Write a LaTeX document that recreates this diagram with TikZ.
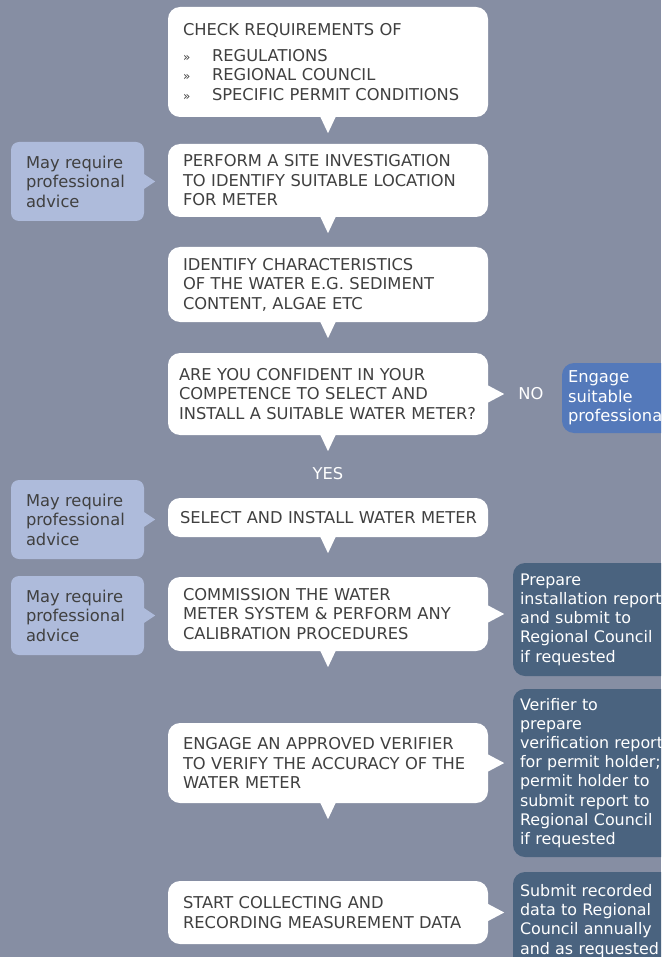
\documentclass[tikz,border=0pt]{standalone}
\usepackage{fontspec}
\setmainfont{DejaVu Sans}
\definecolor{bg}{RGB}{134,142,163}
\definecolor{lightb}{RGB}{174,187,219}
\definecolor{engageb}{RGB}{84,121,186}
\definecolor{darkb}{RGB}{74,99,127}
\definecolor{txt}{RGB}{64,64,64}
\begin{document}
\begin{tikzpicture}[x=1pt,y=-1pt,
  base/.style={font=\fontsize{16.3}{19.5}\selectfont, inner sep=0pt, align=left},
  mainbox/.style={base, fill=white, text=txt, rounded corners=12pt, minimum width=320pt, text width=290pt},
  sidebox/.style={base, fill=lightb, text=txt, rounded corners=8pt, minimum width=133pt, minimum height=79pt, text width=103pt},
  darkbox/.style={base, font=\fontsize{15.9}{19.2}\selectfont, fill=darkb, text=white, rounded corners=12pt, minimum width=162pt, text width=148pt},
  engbox/.style={base, fill=engageb, text=white, rounded corners=12pt, minimum width=113pt, minimum height=70pt, text width=101pt},
  lbl/.style={base, text=white},
  downptr/.style={fill=white},
  rightptr/.style={fill=white},
  sideptr/.style={fill=lightb}
]
\useasboundingbox (0,0) rectangle (661,957);
\fill[bg] (0,0) rectangle (661,957);
\clip (0,0) rectangle (661,957);

% main boxes
\node[mainbox, minimum height=110pt] (b1) at (328,62)
  {CHECK REQUIREMENTS OF\\[6pt]
   \makebox[29pt][l]{\fontsize{12}{14}\selectfont »}REGULATIONS\\
   \makebox[29pt][l]{\fontsize{12}{14}\selectfont »}REGIONAL COUNCIL\\
   \makebox[29pt][l]{\fontsize{12}{14}\selectfont »}SPECIFIC PERMIT CONDITIONS};
\node[mainbox, minimum height=73pt] (b2) at (328,180.5)
  {PERFORM A SITE INVESTIGATION\\TO IDENTIFY SUITABLE LOCATION\\FOR METER};
\node[mainbox, minimum height=75pt] (b3) at (328,284.5)
  {IDENTIFY CHARACTERISTICS\\OF THE WATER E.G. SEDIMENT\\CONTENT, ALGAE ETC};
\node[mainbox, minimum height=82pt, text width=298pt] (b4) at (328,394)
  {ARE YOU CONFIDENT IN YOUR\\COMPETENCE TO SELECT AND\\INSTALL A SUITABLE WATER METER?};
\node[mainbox, minimum height=39pt, text width=296pt] (b5) at (328,517.5)
  {\mbox{SELECT AND INSTALL WATER METER}};
\node[mainbox, minimum height=74pt] (b6) at (328,614)
  {COMMISSION THE WATER\\METER SYSTEM \& PERFORM ANY\\CALIBRATION PROCEDURES};
\node[mainbox, minimum height=80pt] (b7) at (328,763)
  {ENGAGE AN APPROVED VERIFIER\\TO VERIFY THE ACCURACY OF THE\\WATER METER};
\node[mainbox, minimum height=63pt] (b8) at (328,912.5)
  {START COLLECTING AND\\RECORDING MEASUREMENT DATA};

% side boxes
\node[sidebox] (s1) at (77.5,181.5) {May require\\professional\\advice};
\node[sidebox] (s2) at (77.5,519.5) {May require\\professional\\advice};
\node[sidebox] (s3) at (77.5,615.5) {May require\\professional\\advice};

% right boxes
\node[engbox] (e1) at (618.5,398) {Engage\\suitable\\professional};
\node[darkbox, minimum height=113pt] (d1) at (594,619.5)
  {Prepare\\installation report\\and submit to\\Regional Council\\if requested};
\node[darkbox, minimum height=168pt] (d2) at (594,773)
  {Verifier to\\prepare\\verification report\\for permit holder;\\permit holder to\\submit report to\\Regional Council\\if requested};
\node[darkbox, minimum height=98pt] (d3) at (594,921)
  {Submit recorded\\data to Regional\\Council annually\\and as requested};

% labels
\node[lbl] (no) at (531,394) {NO};
\node[lbl] (yes) at (328,474) {YES};

% downward pointers
\foreach \b in {b1,b2,b3,b4,b5,b6,b7}
  \fill[downptr] ([xshift=-8pt,yshift=1pt]\b.south) -- ([xshift=8pt,yshift=1pt]\b.south) -- ([yshift=-16pt]\b.south) -- cycle;

% right pointers from main boxes
\foreach \b/\t in {b4/no,b6/d1,b7/d2,b8/d3}
  \fill[rightptr] ([xshift=-1pt,yshift=9pt]\b.east) -- ([xshift=-1pt,yshift=-9pt]\b.east) -- ([xshift=16pt]\b.east) -- cycle;

% side pointers
\foreach \s/\b in {s1/b2,s2/b5,s3/b6}
  \fill[sideptr] ([xshift=-1pt,yshift=8pt]\s.east) -- ([xshift=-1pt,yshift=-8pt]\s.east) -- ([xshift=11pt]\s.east) -- cycle;
\end{tikzpicture}
\end{document}
